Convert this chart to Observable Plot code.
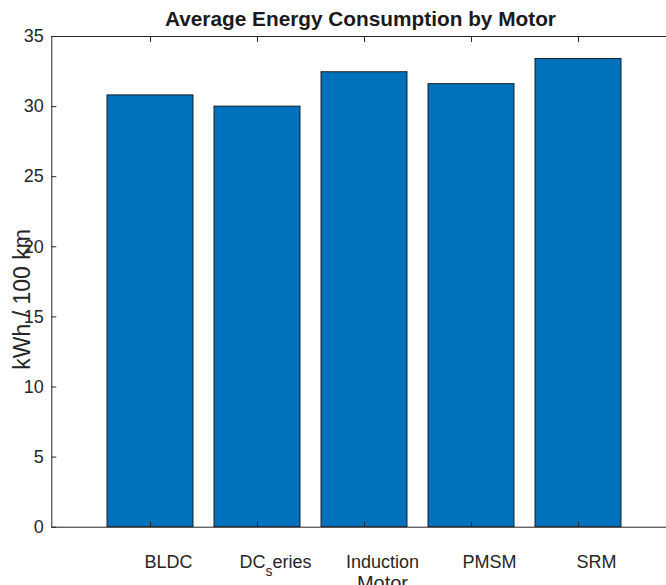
<!DOCTYPE html>
<html>
<head>
<meta charset="utf-8">
<script src="https://cdn.jsdelivr.net/npm/d3@7"></script>
<script src="https://cdn.jsdelivr.net/npm/@observablehq/plot@0.6"></script>
<style>
  html, body { margin: 0; padding: 0; background: white; }
  #chart { width: 666px; height: 585px; overflow: hidden; position: relative; }
  #chart svg { max-width: none !important; display: block; }
</style>
</head>
<body>
<div id="chart"></div>
<script>
// ---- data ----
const categories = ["BLDC", "DC_series", "Induction", "PMSM", "SRM"];
const values = [30.8, 30.0, 32.45, 31.6, 33.4];
const yTicks = [0, 5, 10, 15, 20, 25, 30, 35];
const titleText = "Average Energy Consumption by Motor";
const xLabelText = "Motor";
const yLabelText = "kWh / 100 km";

const data = categories.map((c, i) => ({ motor: c, value: values[i] }));

const font = "'Liberation Sans', Arial, Helvetica, sans-serif";

const chart = Plot.plot({
  width: 666,
  height: 585,
  marginLeft: 51.3,
  marginRight: -10.6,
  marginTop: 36,
  marginBottom: 58.3,
  style: { fontFamily: font, fontSize: "18px", color: "#262626", background: "white", overflow: "hidden" },
  x: { type: "band", domain: categories, paddingInner: 0.2, paddingOuter: 0.5, align: 0.5, axis: null },
  y: { domain: [0, 35], axis: null },
  marks: [
    Plot.barY(data, { x: "motor", y: "value", fill: "#0072BD", stroke: "#111111", strokeWidth: 0.9 }),
    Plot.frame({ stroke: "#262626", strokeWidth: 1 }),
    Plot.axisY({ ticks: yTicks, tickSize: 0, tickPadding: 8, fontSize: 18, label: null, anchor: "left" }),
    Plot.axisY({ ticks: yTicks, tickSize: -5, tickFormat: () => "", label: null, anchor: "left" }),
    Plot.axisX({ tickSize: 0, tickPadding: 28, dx: 18, fontSize: 18, label: null, anchor: "bottom" }),
    Plot.axisX({ tickSize: -5, tickFormat: () => "", label: null, anchor: "bottom" }),
    Plot.axisX({ tickSize: -5, tickFormat: () => "", label: null, anchor: "top" }),
    Plot.text([titleText], { frameAnchor: "top", textAnchor: "middle", dx: -4, dy: -17.2, lineAnchor: "middle", fontWeight: "bold", fontSize: 20.8, fill: "#1a1a1a" }),
    Plot.text([xLabelText], { frameAnchor: "bottom", textAnchor: "middle", dx: 18, dy: 49, lineAnchor: "top", fontSize: 20, fill: "#262626" }),
    Plot.text([yLabelText], { frameAnchor: "left", textAnchor: "middle", rotate: -90, dx: -29, dy: 17.5, lineAnchor: "middle", fontSize: 23, fill: "#262626" })
  ]
});

document.getElementById("chart").appendChild(chart);

// TeX-like subscript rendering for "DC_series" (underscore makes the next char a subscript)
d3.select(chart).selectAll("text").each(function () {
  if (this.textContent === "DC_series") {
    const t = d3.select(this);
    t.text("");
    t.append("tspan").text("DC");
    t.append("tspan").attr("dy", 8).attr("font-size", 14).text("s");
    t.append("tspan").attr("dy", -8).text("eries");
  }
});
</script>
</body>
</html>
